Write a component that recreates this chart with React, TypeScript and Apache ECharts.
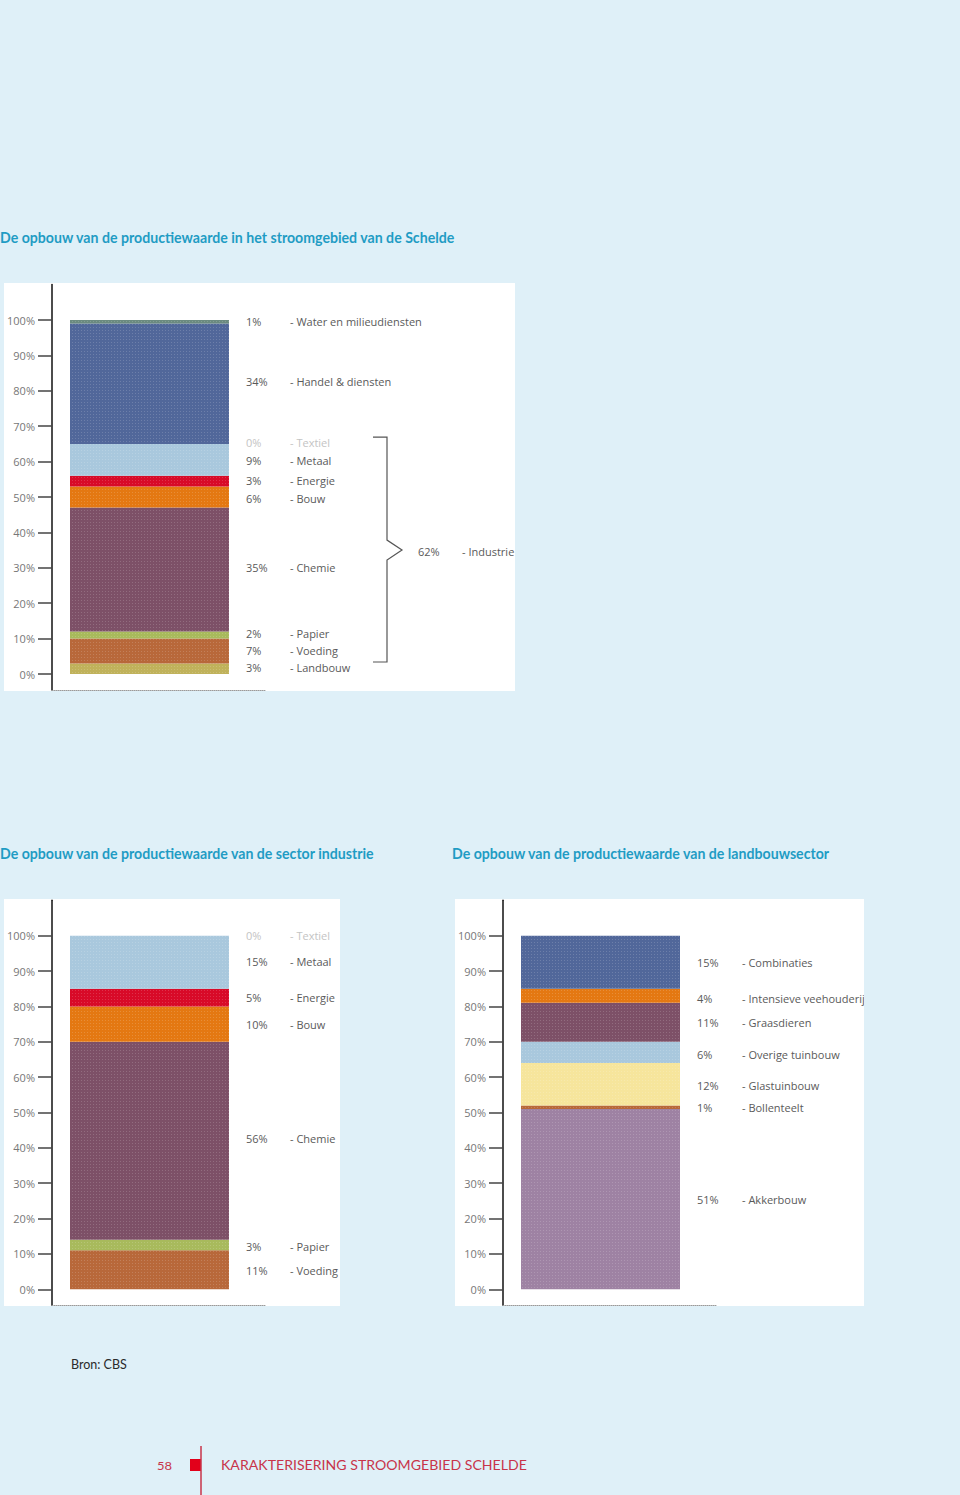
import React, { useEffect, useRef } from 'react';
import * as echarts from 'echarts';

// ---------- data ----------
const TICK_VALUES = [0, 10, 20, 30, 40, 50, 60, 70, 80, 90, 100];

// Chart 1: whole river basin
const basinNames = ['Landbouw', 'Voeding', 'Papier', 'Chemie', 'Bouw', 'Energie', 'Metaal', 'Textiel', 'Handel & diensten', 'Water en milieudiensten'];
const basinValues = [3, 7, 2, 35, 6, 3, 9, 0, 34, 1];
const basinColors = ['#c0b25b', '#b8683a', '#a8ba5c', '#7d5067', '#e47812', '#d80a28', '#a9c8dd', '#cfcfcf', '#51679a', '#6b8a80'];
const basinLabelAt = [1.7, 6.5, 11.3, 30.2, 49.7, 54.8, 60.2, 65.5, 82.5, 99.7];
const industrieShare = 62;
const industrieLabel = '- Industrie';

// Chart 2: industry
const industryNames = ['Voeding', 'Papier', 'Chemie', 'Bouw', 'Energie', 'Metaal', 'Textiel'];
const industryValues = [11, 3, 56, 10, 5, 15, 0];
const industryColors = ['#b8683a', '#a8ba5c', '#7d5067', '#e47812', '#d80a28', '#a9c8dd', '#cfcfcf'];
const industryLabelAt = [5.2, 12.2, 42.5, 75.0, 82.4, 92.6, 100];

// Chart 3: agriculture
const agriNames = ['Akkerbouw', 'Bollenteelt', 'Glastuinbouw', 'Overige tuinbouw', 'Graasdieren', 'Intensieve veehouderij', 'Combinaties'];
const agriValues = [51, 1, 12, 6, 11, 4, 15];
const agriColors = ['#9e82a3', '#b8683a', '#f6e59c', '#a9c8dd', '#7d5067', '#e47812', '#51679a'];
const agriLabelAt = [25.3, 51.3, 57.5, 66.5, 75.3, 82.1, 92.3];

const titles = [
  'De opbouw van de productiewaarde in het stroomgebied van de Schelde',
  'De opbouw van de productiewaarde van de sector industrie',
  'De opbouw van de productiewaarde van de landbouwsector',
];

// ---------- layout ----------
const BG = '#dff0f8';
const TITLE_COLOR = '#1f9cc4';
const FOOT_RED = '#c8344a';
const FONT = '"Open Sans", "Lato", sans-serif';
const Y_MIN = -4.5;
const Y_MAX = 110;

const charts = [
  { names: basinNames, values: basinValues, colors: basinColors, at: basinLabelAt, mute: 'Textiel',
    left: 52, top: 284.6, scale: 3.54, barCenter: 149.5, pctX: 246, nameX: 290,
    panel: [4, 283, 511, 408], title: [0, 237] },
  { names: industryNames, values: industryValues, colors: industryColors, at: industryLabelAt, mute: 'Textiel',
    left: 52, top: 900.3, scale: 3.536, barCenter: 149.5, pctX: 246, nameX: 290,
    panel: [4, 899, 336, 407], title: [0, 853] },
  { names: agriNames, values: agriValues, colors: agriColors, at: agriLabelAt, mute: '',
    left: 503, top: 900.3, scale: 3.536, barCenter: 600.5, pctX: 697, nameX: 742,
    panel: [455, 899, 409, 407], title: [452, 853] },
];

function txt(text: string, x: number, y: number, o: any = {}) {
  return {
    type: 'text', x, y, z: o.z ?? 10, scaleX: o.scaleX ?? 1,
    style: {
      text, fill: o.fill ?? '#555', fontSize: o.fontSize ?? 11, fontFamily: o.fontFamily ?? FONT,
      fontWeight: o.fontWeight ?? 'normal',
      align: o.align ?? 'left', verticalAlign: 'middle',
      textAlign: o.align ?? 'left', textVerticalAlign: 'middle',
    },
  };
}

function buildOption() {
  const grid: any[] = [];
  const xAxis: any[] = [];
  const yAxis: any[] = [];
  const series: any[] = [];
  const graphic: any[] = [];

  charts.forEach((c, i) => {
    const H = (Y_MAX - Y_MIN) * c.scale;
    const axisW = 213;
    const barW = (c.barCenter - c.left) * 2;
    const gAxis = grid.length;
    grid.push({ left: c.left, top: c.top, width: axisW, height: H });
    const gBar = grid.length;
    grid.push({ left: c.left, top: c.top, width: barW, height: H });

    // axis grid
    xAxis.push({
      gridIndex: gAxis, type: 'value', min: 0, max: 1,
      axisLine: { show: true, onZero: false, lineStyle: { color: '#9a9a9a', type: 'dotted', width: 1 } },
      axisTick: { show: false }, axisLabel: { show: false }, splitLine: { show: false },
    });
    yAxis.push({
      gridIndex: gAxis, type: 'value', min: Y_MIN, max: Y_MAX,
      axisLine: { show: true, onZero: false, lineStyle: { color: '#111', width: 1.5 } },
      axisTick: { show: true, customValues: TICK_VALUES, length: 14, inside: false, lineStyle: { color: '#444', width: 1.5 } },
      axisLabel: { show: true, customValues: TICK_VALUES, formatter: '{value}%', margin: 17, color: '#777', fontSize: 11, fontFamily: FONT },
      splitLine: { show: false },
    });
    // bar grid
    xAxis.push({ gridIndex: gBar, type: 'category', data: [''], show: false });
    yAxis.push({ gridIndex: gBar, type: 'value', min: Y_MIN, max: Y_MAX, show: false, splitLine: { show: false } });

    c.names.forEach((n, k) => {
      series.push({
        type: 'bar', name: n, stack: 'stack' + i,
        xAxisIndex: xAxis.length - 1, yAxisIndex: yAxis.length - 1,
        barWidth: 159, data: [c.values[k]],
        itemStyle: {
          color: c.colors[k],
          decal: { symbol: 'rect', symbolSize: 1, dashArrayX: [1, 2], dashArrayY: [1, 2], color: 'rgba(255,255,255,0.16)' },
        },
        silent: true,
      });
    });

    // panel
    const [px, py, pw, ph] = c.panel;
    graphic.push({ type: 'rect', z: -5, shape: { x: px, y: py, width: pw, height: ph }, style: { fill: '#ffffff' } });
    // clip strip on the right of the panel
    graphic.push({ type: 'rect', z: 50, shape: { x: px + pw, y: py - 2, width: 960 - (px + pw) - (i === 1 ? 960 - 455 : 0), height: ph + 4 }, style: { fill: BG } });

    // labels
    const yOf = (p: number) => c.top + (Y_MAX - p) * c.scale;
    c.names.forEach((n, k) => {
      const fill = n === c.mute ? '#c4c4c4' : '#5a5a5a';
      graphic.push(txt(c.values[k] + '%', c.pctX, yOf(c.at[k]), { fill }));
      graphic.push(txt('- ' + n, c.nameX, yOf(c.at[k]), { fill }));
    });

    // title
    graphic.push(txt(titles[i], c.title[0], c.title[1], { fill: TITLE_COLOR, fontSize: 14.15, fontWeight: 'bold', fontFamily: 'Lato, "Open Sans", sans-serif' }));

    if (i === 0) {
      // industry bracket spanning Textiel..Landbouw
      const yTop = yOf(65.5) - 5;
      const yBot = yOf(1.7) - 6;
      const yMid = (yTop + yBot) / 2 + 0.5;
      graphic.push({
        type: 'polyline', z: 10,
        shape: { points: [[373, yTop], [387, yTop], [387, yMid - 10], [402, yMid], [387, yMid + 10], [387, yBot], [373, yBot]] },
        style: { stroke: '#555', lineWidth: 1.2, fill: null },
      });
      graphic.push(txt(industrieShare + '%', 418, yMid + 1, { fill: '#5a5a5a' }));
      graphic.push(txt(industrieLabel, 462, yMid + 1, { fill: '#5a5a5a' }));
    }
  });

  // source
  graphic.push(txt('Bron: CBS', 71, 1364, { fill: '#2a2a2a', fontSize: 12.5, fontFamily: 'Lato, "Open Sans", sans-serif' }));
  // footer
  graphic.push(txt('58', 157, 1466, { fill: FOOT_RED, fontSize: 12, fontFamily: 'Lato, sans-serif', scaleX: 1.08 }));
  graphic.push({ type: 'rect', z: 10, shape: { x: 190, y: 1459, width: 11, height: 12 }, style: { fill: '#e2001a' } });
  graphic.push({ type: 'line', z: 10, shape: { x1: 201, y1: 1446, x2: 201, y2: 1495 }, style: { stroke: FOOT_RED, lineWidth: 1.5 } });
  graphic.push(txt('KARAKTERISERING STROOMGEBIED SCHELDE', 221, 1465, { fill: FOOT_RED, fontSize: 12.5, fontFamily: 'Lato, sans-serif', scaleX: 1.13 }));

  return {
    animation: false,
    backgroundColor: BG,
    grid, xAxis, yAxis, series, graphic,
  };
}

export default function App() {
  const ref = useRef<HTMLDivElement>(null);
  useEffect(() => {
    document.body.style.margin = '0';
    if (!ref.current) return;
    const chart = echarts.init(ref.current, undefined, { renderer: 'svg' });
    chart.setOption(buildOption() as any);
    return () => chart.dispose();
  }, []);
  return <div ref={ref} style={{ width: 960, height: 1495 }} />;
}
